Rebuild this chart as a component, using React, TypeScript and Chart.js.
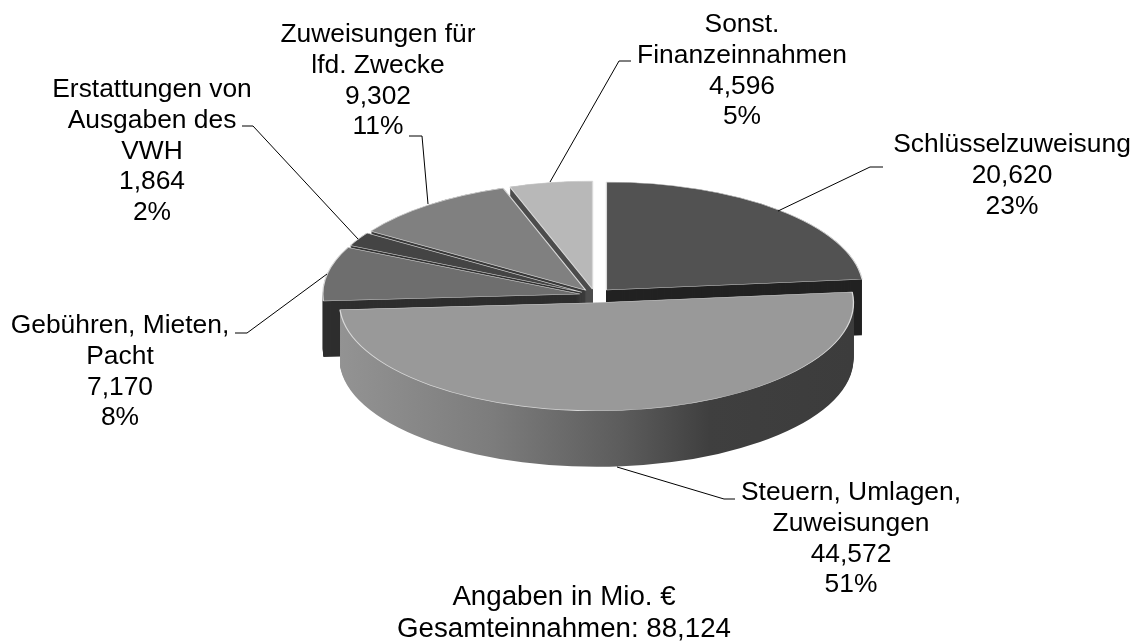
import React, { useEffect, useRef } from "react";
import { Chart, registerables } from "chart.js";

Chart.register(...registerables);

const categories = [
  "Schlüsselzuweisung",
  "Steuern, Umlagen, Zuweisungen",
  "Gebühren, Mieten, Pacht",
  "Erstattungen von Ausgaben des VWH",
  "Zuweisungen für lfd. Zwecke",
  "Sonst. Finanzeinnahmen",
];
const values = [20620, 44572, 7170, 1864, 9302, 4596];
const labelLines = [
  ["Schlüsselzuweisung"],
  ["Steuern, Umlagen,", "Zuweisungen"],
  ["Gebühren, Mieten,", "Pacht"],
  ["Erstattungen von", "Ausgaben des", "VWH"],
  ["Zuweisungen für", "lfd. Zwecke"],
  ["Sonst.", "Finanzeinnahmen"],
];
const footerLines = ["Angaben in Mio. €", "Gesamteinnahmen: 88,124"];

const topColors = ["#525252", "#999999", "#6e6e6e", "#444444", "#808080", "#b8b8b8"];
const wallColors = ["#222222", "#3c3c3c", "#2e2e2e", "#333333", "#3a3a3a", "#4c4c4c"];
const explode = [17, 18, 15.5, 15, 15, 15];
const drawOrder = [5, 4, 3, 2, 0, 1];

const CX = 595, CY = 295.3, RADIUS = 257, TILT = 0.42, DEPTH = 56;
const FONT = '26.4px "Liberation Sans", Arial, sans-serif';
const FOOTER_FONT = '27.7px "Liberation Sans", Arial, sans-serif';
const LINE = 30.7;

const labelLayout = [
  { x: 1012, y: 145, leader: [[778, 211], [870, 167], [883, 167]] },
  { x: 851, y: 493, leader: [[617, 467], [724, 499], [735, 499]] },
  { x: 120, y: 326, leader: [[327, 274], [247, 333], [235, 333]] },
  { x: 152, y: 90, leader: [[358, 239], [253, 126], [242, 126]] },
  { x: 378, y: 35, leader: [[428, 204], [422, 136], [409, 136]] },
  { x: 742, y: 25, leader: [[550, 182], [619, 61], [631, 61]] },
];

const total = values.reduce((a, b) => a + b, 0);

const pie3d = {
  id: "pie3d",
  beforeDatasetsDraw(chart: any) {
    const ctx: CanvasRenderingContext2D = chart.ctx;
    const arcs = chart.getDatasetMeta(0).data;
    for (const i of drawOrder) {
      const el = arcs[i];
      const { x, y, startAngle, endAngle, outerRadius } = el.getProps(
        ["x", "y", "startAngle", "endAngle", "outerRadius"],
        true
      );
      const mid = (startAngle + endAngle) / 2;
      const dx = Math.cos(mid) * explode[i];
      const dy = Math.sin(mid) * explode[i];
      const px = CX + dx;
      const py = CY + dy * TILT;

      let fill: any = wallColors[i];
      if (i === 1) {
        const g = ctx.createLinearGradient(px - outerRadius, 0, px + outerRadius, 0);
        g.addColorStop(0, "#939393");
        g.addColorStop(0.3, "#7c7c7c");
        g.addColorStop(0.55, "#5c5c5c");
        g.addColorStop(0.72, "#3f3f3f");
        g.addColorStop(1, "#3c3c3c");
        fill = g;
      }
      ctx.save();
      ctx.fillStyle = fill;
      for (let d = DEPTH; d >= 0; d -= 1) {
        ctx.beginPath();
        ctx.moveTo(px, py + d);
        ctx.ellipse(px, py + d, outerRadius, outerRadius * TILT, 0, startAngle, endAngle);
        ctx.closePath();
        ctx.fill();
      }
      ctx.restore();

      ctx.save();
      ctx.translate(px, py);
      ctx.scale(1, TILT);
      ctx.translate(-x, -y);
      el.draw(ctx);
      ctx.restore();
    }
    return false;
  },
  afterDraw(chart: any) {
    const ctx: CanvasRenderingContext2D = chart.ctx;
    ctx.save();
    ctx.strokeStyle = "#000000";
    ctx.lineWidth = 1;
    labelLayout.forEach((l) => {
      ctx.beginPath();
      l.leader.forEach(([a, b], k) => (k ? ctx.lineTo(a, b) : ctx.moveTo(a, b)));
      ctx.stroke();
    });
    ctx.fillStyle = "#000000";
    ctx.font = FONT;
    ctx.textAlign = "center";
    ctx.textBaseline = "middle";
    labelLayout.forEach((l, i) => {
      const lines = [
        ...labelLines[i],
        values[i].toLocaleString("en-US"),
        `${Math.round((values[i] / total) * 100)}%`,
      ];
      lines.forEach((t, k) => ctx.fillText(t, l.x, l.y + k * LINE));
    });
    ctx.font = FOOTER_FONT;
    footerLines.forEach((t, k) => ctx.fillText(t, 564, 597 + k * 32));
    ctx.restore();
  },
};

export default function App() {
  const ref = useRef<HTMLCanvasElement>(null);
  useEffect(() => {
    document.body.style.margin = "0";
    const chart = new Chart(ref.current!, {
      type: "pie",
      data: {
        labels: categories,
        datasets: [
          {
            data: values,
            backgroundColor: topColors,
            borderColor: "#d9d9d9",
            borderWidth: 1.3,
          },
        ],
      },
      options: {
        responsive: false,
        animation: false,
        events: [],
        radius: RADIUS,
        plugins: { legend: { display: false }, tooltip: { enabled: false } },
      } as any,
      plugins: [pie3d],
    });
    return () => chart.destroy();
  }, []);
  return <canvas ref={ref} width={1138} height={644} style={{ display: "block" }} />;
}
